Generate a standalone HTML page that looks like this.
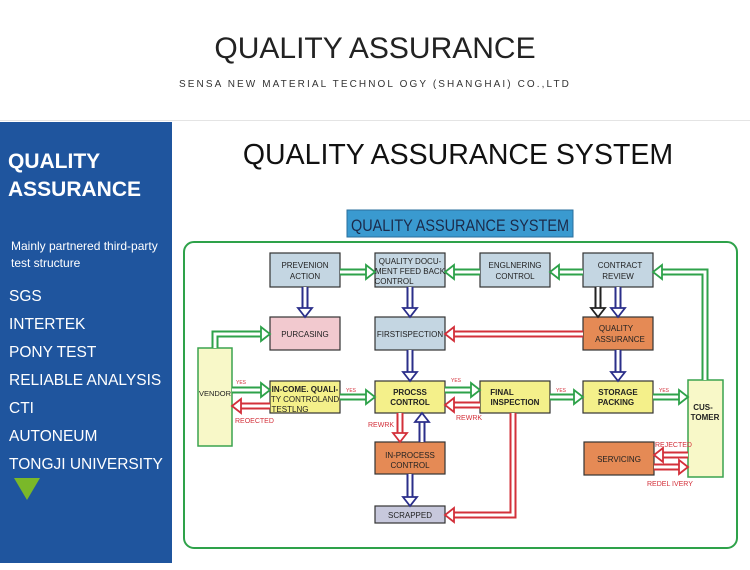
<!DOCTYPE html>
<html><head><meta charset="utf-8"><style>
html,body{margin:0;padding:0;background:#fff;}
body{width:750px;height:570px;position:relative;overflow:hidden;font-family:"Liberation Sans",Arial,sans-serif;}
.t{position:absolute;white-space:nowrap;}
</style></head><body>
<div class="t" style="left:0;width:750px;text-align:center;top:32px;font-size:30px;color:#222;">QUALITY ASSURANCE</div>
<div class="t" style="left:0;width:750px;text-align:center;top:79px;font-size:10px;letter-spacing:2.1px;color:#333;">SENSA NEW MATERIAL TECHNOL OGY (SHANGHAI) CO.,LTD</div>
<div style="position:absolute;left:0;top:120px;width:750px;height:1px;background:#e4e4e4"></div>
<div style="position:absolute;left:0;top:122px;width:172px;height:441px;background:#1f559e"></div>
<div class="t" style="left:8px;top:148px;font-size:21px;font-weight:bold;color:#fff;line-height:28px;">QUALITY<br>ASSURANCE</div>
<div class="t" style="left:11px;top:238px;font-size:12px;color:#fff;line-height:17px;">Mainly partnered third-party<br>test structure</div>
<div class="t" style="left:9px;top:283px;font-size:15.5px;color:#fff;line-height:28px;">SGS<br>INTERTEK<br>PONY TEST<br>RELIABLE ANALYSIS<br>CTI<br>AUTONEUM<br>TONGJI UNIVERSITY</div>
<div style="position:absolute;left:14px;top:478px;width:0;height:0;border-left:13px solid transparent;border-right:13px solid transparent;border-top:22px solid #7ab829"></div>
<div class="t" style="left:172px;width:572px;text-align:center;top:139px;font-size:28.5px;color:#111;">QUALITY ASSURANCE SYSTEM</div>

<svg id="d" width="750" height="570" style="position:absolute;left:0;top:0" font-family="Liberation Sans, Arial, sans-serif">
<rect x="347" y="210" width="226" height="27" fill="#3a9ad0" stroke="#2a6f9c"/>
<text x="460" y="231" font-size="17" text-anchor="middle" fill="#1b2a4a" font-family="Liberation Sans Narrow, Liberation Sans, sans-serif" transform="translate(460 0) scale(0.85 1) translate(-460 0)">QUALITY ASSURANCE SYSTEM</text>
<rect x="184" y="242" width="553" height="306" rx="10" fill="none" stroke="#2ea24a" stroke-width="2"/>
<g stroke="#333" stroke-width="1.2">
<rect x="270" y="253" width="70" height="34" fill="#c4d6e2"/>
<rect x="375" y="253" width="70" height="34" fill="#c4d6e2"/>
<rect x="480" y="253" width="70" height="34" fill="#c4d6e2"/>
<rect x="583" y="253" width="70" height="34" fill="#c4d6e2"/>
<rect x="270" y="317" width="70" height="33" fill="#f2c9cf"/>
<rect x="375" y="317" width="70" height="33" fill="#c4d6e2"/>
<rect x="583" y="317" width="70" height="33" fill="#e58a55"/>
<rect x="270" y="381" width="70" height="32" fill="#f4f08a"/>
<rect x="375" y="381" width="70" height="32" fill="#f4f08a"/>
<rect x="480" y="381" width="70" height="32" fill="#f4f08a"/>
<rect x="583" y="381" width="70" height="32" fill="#f4f08a"/>
<rect x="375" y="442" width="70" height="32" fill="#e58a55"/>
<rect x="584" y="442" width="70" height="33" fill="#e58a55"/>
<rect x="375" y="506" width="70" height="17" fill="#c7c8dc"/>
</g>
<rect x="198" y="348" width="34" height="98" fill="#f8f8c8" stroke="#3aa34f" stroke-width="1.5"/>
<rect x="688" y="380" width="35" height="97" fill="#f8f8c8" stroke="#3aa34f" stroke-width="1.5"/>
<g font-size="8" fill="#222" text-anchor="middle">
<text x="305" y="268">PREVENION</text><text x="305" y="279">ACTION</text>
<text x="410" y="264">QUALITY DOCU-</text><text x="410" y="274">MENT FEED BACK</text><text x="394" y="284">CONTROL</text>
<text x="515" y="268">ENGLNERING</text><text x="515" y="279">CONTROL</text>
<text x="620" y="268">CONTRACT</text><text x="618" y="279">REVIEW</text>
<text x="305" y="337">PURCASING</text>
<text x="410" y="337">FIRSTISPECTION</text>
<text x="616" y="331">QUALITY</text><text x="620" y="342">ASSURANCE</text>
<text x="215" y="396" font-size="7.5">VENDOR</text>
<text x="305" y="392" font-weight="bold">IN-COME. QUALI-</text><text x="305" y="402">TY CONTROLAND</text><text x="290" y="412">TESTLNG</text>
<text x="410" y="395" font-weight="bold">PROCSS</text><text x="410" y="405" font-weight="bold">CONTROL</text>
<text x="502" y="395" font-weight="bold">FINAL</text><text x="515" y="405" font-weight="bold">INSPECTION</text>
<text x="618" y="395" font-weight="bold">STORAGE</text><text x="616" y="405" font-weight="bold">PACKING</text>
<text x="703" y="410" font-weight="bold">CUS-</text><text x="705" y="420" font-weight="bold">TOMER</text>
<text x="410" y="458">IN-PROCESS</text><text x="410" y="468">CONTROL</text>
<text x="619" y="462">SERVICING</text>
<text x="410" y="518">SCRAPPED</text>
</g>
<g font-size="7" fill="#d3303a">
<text x="236" y="384" font-size="5">YES</text>
<text x="346" y="392" font-size="5">YES</text>
<text x="451" y="382" font-size="5">YES</text>
<text x="556" y="392" font-size="5">YES</text>
<text x="659" y="392" font-size="5">YES</text>
<text x="474" y="517" font-size="5">NO</text>
<text x="235" y="423">REOECTED</text>
<text x="456" y="420">REWRK</text>
<text x="368" y="427">REWRK</text>
<text x="655" y="447">REJECTED</text>
<text x="647" y="486">REDEL IVERY</text>
</g>
<g id="arrows"></g>
</svg>
<script>
var G='#2ea24a',N='#2b2f8a',R='#d3303a',K='#222';
var A=[
[[[340,272],[375,272]],G],[[[480,272],[445,272]],G],[[[583,272],[550,272]],G],
[[[705,380],[705,272],[653,272]],G],
[[[305,287],[305,317]],N],[[[410,287],[410,317]],N],[[[598,287],[598,317]],K],[[[618,287],[618,317]],N],
[[[583,334],[445,334]],R],[[[410,350],[410,381]],N],[[[618,350],[618,381]],N],
[[[215,348],[215,334],[270,334]],G],
[[[232,390],[270,390]],G],[[[270,406],[232,406]],R],
[[[340,397],[375,397]],G],[[[445,390],[480,390]],G],[[[480,405],[445,405]],R],
[[[550,397],[583,397]],G],[[[653,397],[688,397]],G],
[[[400,413],[400,442]],R],[[[422,442],[422,413]],N],[[[410,474],[410,506]],N],
[[[513,413],[513,515],[445,515]],R],
[[[688,455],[654,455]],R],[[[654,467],[688,467]],R]
];
var g=document.getElementById('arrows'),h='';
A.forEach(function(a){var p=a[0],c=a[1],n=p.length;
var e=p[n-1],s=p[n-2],dx=e[0]-s[0],dy=e[1]-s[1],L=Math.hypot(dx,dy),ux=dx/L,uy=dy/L,hl=9,hw=7;
var bx=e[0]-ux*hl,by=e[1]-uy*hl;
var pts=p.slice(0,n-1).map(function(q){return q.join(',')}).join(' ')+' '+bx+','+by;
h+='<polyline points="'+pts+'" fill="none" stroke="'+c+'" stroke-width="7" stroke-linejoin="miter"/>';
h+='<polyline points="'+pts+'" fill="none" stroke="#fff" stroke-width="3" stroke-linejoin="miter"/>';
var px=-uy,py=ux;
h+='<polygon points="'+e[0]+','+e[1]+' '+(bx+px*hw)+','+(by+py*hw)+' '+(bx-px*hw)+','+(by-py*hw)+'" fill="#fff" stroke="'+c+'" stroke-width="1.8"/>';
});
g.innerHTML=h;
</script>
</body></html>
